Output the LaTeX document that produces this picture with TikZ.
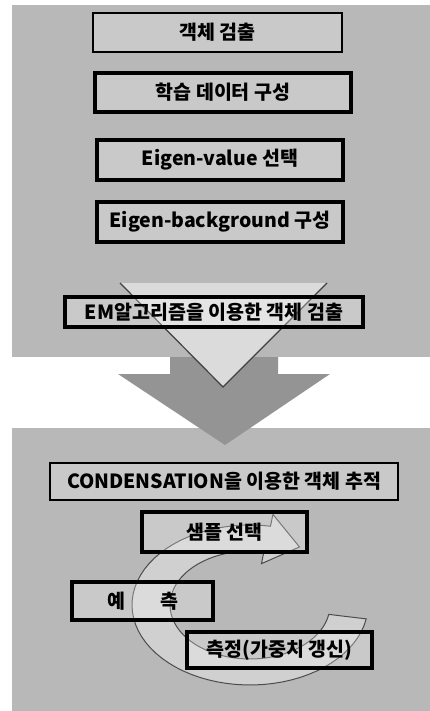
\documentclass[tikz,border=0pt]{standalone}
\usepackage{fontspec}
\setmainfont{Noto Sans CJK KR}
\begin{document}
\begin{tikzpicture}[x=1pt,y=-1pt,
  panel/.style={fill=black!28, draw=none},
  thinbox/.style={draw=black, line width=1.6pt, fill=white, fill opacity=0.25, text opacity=1, inner sep=0pt, font=\fontsize{19.5}{23}\selectfont\bfseries},
  thickbox/.style={thinbox, line width=3.4pt},
  ring/.style={fill=white, fill opacity=0.35, draw=black!70, line width=1pt}
]
\useasboundingbox (0,0) rectangle (430,711);
\fill[white] (0,0) rectangle (430,711);
\fill[panel] (12,5) rectangle (430,357);
\fill[panel] (12,428) rectangle (430,711);
% big down arrow
\fill[black!42] (170,357) -- (170,374) -- (118,374) -- (225,445) -- (330,374) -- (278,374) -- (278,357) -- cycle;
\fill[black!14] (120,283) -- (327,283) -- (223,387) -- cycle;
\draw[black!75, line width=1.2pt] (120,283) -- (223,387) -- (327,283);
% circular arrow
\filldraw[ring]
  plot[domain=10:280, samples=60] ({250+118*cos(\x)},{605+80*sin(\x)})
  -- ({250+132*cos(280)},{605+92*sin(280)})
  -- ({250+99*cos(300)},{605+67*sin(300)})
  -- ({250+66*cos(280)},{605+42*sin(280)})
  -- plot[domain=280:10, samples=60] ({250+80*cos(\x)},{605+54*sin(\x)})
  -- cycle;
% top boxes
\node[thinbox, minimum width=249pt, minimum height=39pt] (b1) at (217.5,32.5) {객체 검출};
\node[thickbox, minimum width=256pt, minimum height=39pt] (b2) at (223,92.5) {학습 데이터 구성};
\node[thickbox, minimum width=246pt, minimum height=40pt] (b3) at (220,160) {Eigen-value 선택};
\node[thickbox, minimum width=246pt, minimum height=40pt] (b4) at (220,222) {Eigen-background 구성};
\node[thickbox, minimum width=298pt, minimum height=30pt] (em) at (214,312) {EM알고리즘을 이용한 객체 검출};
% bottom boxes
\node[thinbox, minimum width=348pt, minimum height=37pt] (cond) at (224,481.5) {CONDENSATION을 이용한 객체 추적};
\node[thickbox, minimum width=165pt, minimum height=40pt] (s) at (224.5,532) {샘플 선택};
\node[thickbox, minimum width=141pt, minimum height=38pt] (p) at (142.5,601) {예\hspace{1.8em}측};
\node[thickbox, minimum width=185pt, minimum height=36pt] (m) at (279.5,650) {측정(가중치 갱신)};
\end{tikzpicture}
\end{document}
